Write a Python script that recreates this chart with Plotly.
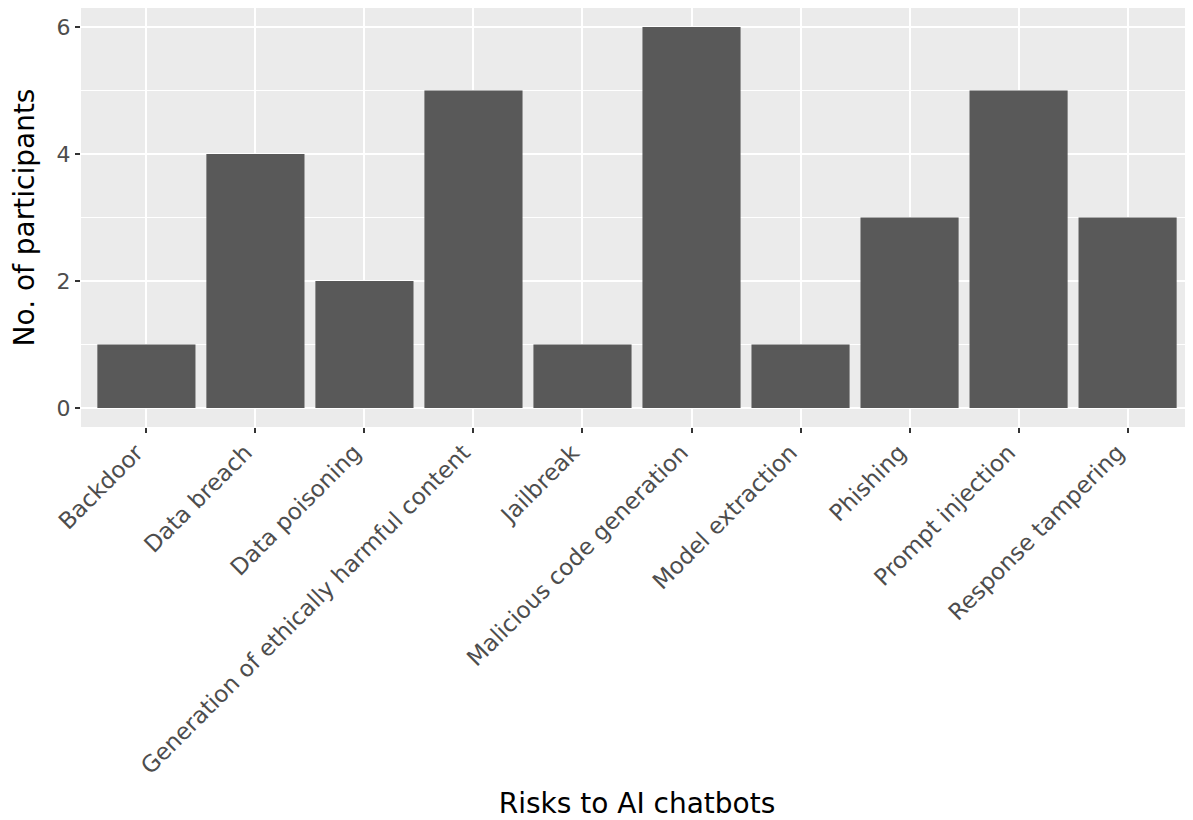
import plotly.graph_objects as go

categories = ["Backdoor", "Data breach", "Data poisoning", "Generation of ethically harmful content",
              "Jailbreak", "Malicious code generation", "Model extraction", "Phishing",
              "Prompt injection", "Response tampering"]
counts = [1, 4, 2, 5, 1, 6, 1, 3, 5, 3]
y_ticks = [0, 2, 4, 6]
y_minor = [1, 3, 5]

fig = go.Figure()
fig.add_trace(go.Bar(x=categories, y=counts, width=0.9,
                     marker=dict(color="#595959", line=dict(width=0))))

font = "DejaVu Sans"
# the page body adds an 8px offset, so the figure is sized/margined to compensate
fig.update_layout(
    width=1185, height=812,
    margin=dict(l=73, r=0, t=0, b=393),
    paper_bgcolor="white", plot_bgcolor="#EBEBEB",
    showlegend=False,
    font=dict(family=font, color="#4D4D4D"),
    bargap=0.1,
)
fig.update_xaxes(
    type="category", range=[-0.6, 9.6],
    tickangle=-45, tickfont=dict(size=23, color="#4D4D4D", family=font),
    ticks="outside", ticklen=5, tickwidth=2, tickcolor="#333333",
    ticklabelstandoff=-3, ticklabelshift=-10,
    showgrid=True, gridcolor="white", gridwidth=2,
    zeroline=False, showline=False, automargin=False,
    title=dict(text="Risks to AI chatbots", font=dict(size=28, color="black", family=font), standoff=16),
)
fig.update_yaxes(
    range=[-0.3, 6.3], tickvals=y_ticks,
    tickfont=dict(size=22, color="#4D4D4D", family=font),
    ticks="outside", ticklen=5, tickwidth=2, tickcolor="#333333",
    showgrid=True, gridcolor="white", gridwidth=2,
    minor=dict(tickvals=y_minor, showgrid=True, gridcolor="white", gridwidth=1, ticks=""),
    zeroline=False, showline=False, automargin=False,
    title=dict(text="No. of participants", font=dict(size=28, color="black", family=font), standoff=17),
)
fig.write_html("out.html")
